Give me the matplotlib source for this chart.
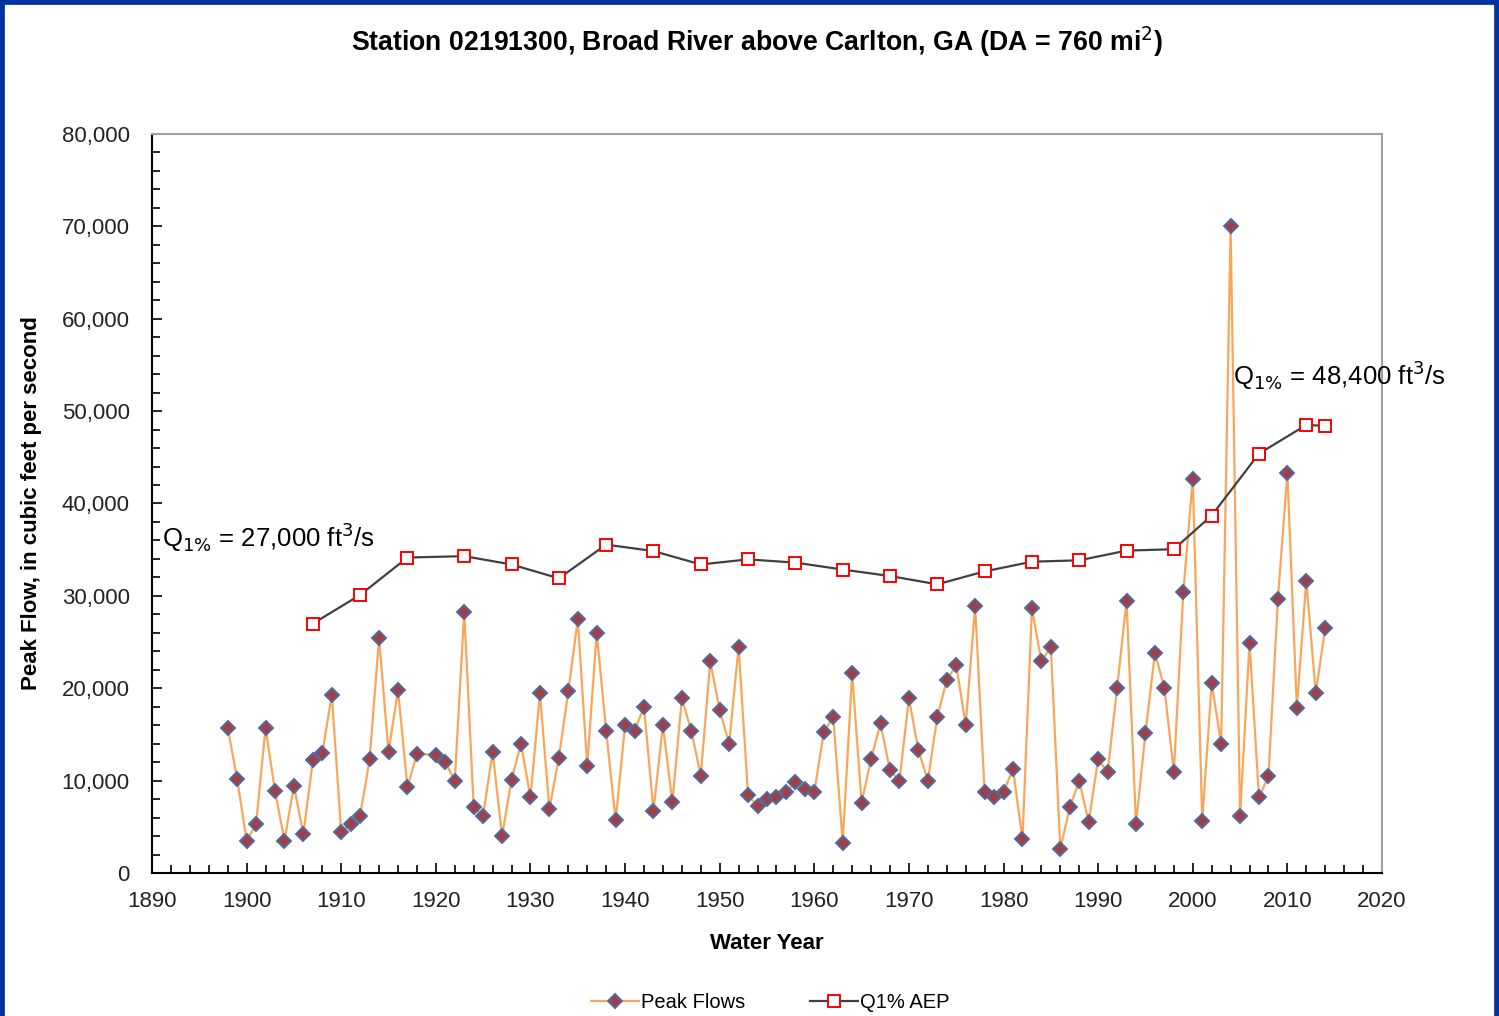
"""Annual peak flows and the moving 1% AEP estimate for Broad River above
Carlton, GA. Values read off the published figure."""
import matplotlib
matplotlib.use("Agg")
import matplotlib.pyplot as plt  # noqa: E402
from matplotlib.patches import Rectangle  # noqa: E402
from matplotlib.ticker import FuncFormatter, MultipleLocator  # noqa: E402

plt.rcParams.update({"font.family": ["Liberation Sans", "DejaVu Sans"]})

# annual peaks (1919 not in record)
peak_years = [1898, 1899, 1900, 1901, 1902, 1903, 1904, 1905, 1906, 1907,
              1908, 1909, 1910, 1911, 1912, 1913, 1914, 1915, 1916, 1917,
              1918, 1920, 1921, 1922, 1923, 1924, 1925, 1926, 1927, 1928,
              1929, 1930, 1931, 1932, 1933, 1934, 1935, 1936, 1937, 1938,
              1939, 1940, 1941, 1942, 1943, 1944, 1945, 1946, 1947, 1948,
              1949, 1950, 1951, 1952, 1953, 1954, 1955, 1956, 1957, 1958,
              1959, 1960, 1961, 1962, 1963, 1964, 1965, 1966, 1967, 1968,
              1969, 1970, 1971, 1972, 1973, 1974, 1975, 1976, 1977, 1978,
              1979, 1980, 1981, 1982, 1983, 1984, 1985, 1986, 1987, 1988,
              1989, 1990, 1991, 1992, 1993, 1994, 1995, 1996, 1997, 1998,
              1999, 2000, 2001, 2002, 2003, 2004, 2005, 2006, 2007, 2008,
              2009, 2010, 2011, 2012, 2013, 2014]
peak_flows = [15700, 10200, 3500, 5300, 15700, 8900, 3500, 9450, 4200, 12200,
              12950, 19300, 4400, 5300, 6200, 12300, 25400, 13100, 19800, 9300,
              12900, 12800, 12000, 10000, 28300, 7100, 6200, 13100, 4000, 10100,
              14000, 8200, 19450, 6900, 12500, 19650, 27450, 11600, 26000, 15400,
              5700, 16000, 15400, 18000, 6750, 16000, 7650, 18900, 15400, 10550,
              22900, 17650, 14000, 24500, 8400, 7250, 8000, 8200, 8750, 9800,
              9100, 8750, 15250, 16900, 3300, 21600, 7600, 12350, 16200, 11100,
              10000, 18900, 13300, 10000, 16900, 20900, 22500, 16000, 28900, 8750,
              8200, 8750, 11250, 3650, 28650, 22900, 24500, 2600, 7100, 10000,
              5500, 12350, 10900, 20000, 29450, 5300, 15150, 23800, 20050, 10900,
              30400, 42700, 5650, 20550, 14000, 70000, 6200, 24900, 8200, 10450,
              29700, 43300, 17900, 31650, 19450, 26550]

# 1% annual exceedance probability estimate through time
q1_years = [1907, 1912, 1917, 1923, 1928, 1933, 1938, 1943, 1948, 1953, 1958,
            1963, 1968, 1973, 1978, 1983, 1988, 1993, 1998, 2002, 2007, 2012,
            2014]
q1_flows = [27000, 30100, 34150, 34300, 33400, 31900, 35550, 34850, 33400,
            33950, 33600, 32850, 32150, 31250, 32650, 33700, 33850, 34900,
            35050, 38700, 45400, 48500, 48400]

fig = plt.figure(figsize=(14.99, 10.16), dpi=100)
ax = fig.add_axes([152 / 1499, 1 - 873 / 1016, 1230 / 1499, 739 / 1016])

ax.plot(peak_years, peak_flows, color="#f9a65a", lw=1.6, marker="D", ms=7,
        mfc="#a23e48", mec="#4f6a9a", mew=1.4, label="Peak Flows", zorder=3)
ax.plot(q1_years, q1_flows, color="#404040", lw=1.6, marker="s", ms=8,
        mfc="white", mec="#ff0000", mew=1.4, label="Q1% AEP", zorder=4)

ax.set_xlim(1890, 2020)
ax.set_ylim(0, 80000)
ax.xaxis.set_major_locator(MultipleLocator(10))
ax.xaxis.set_minor_locator(MultipleLocator(2))
ax.yaxis.set_major_locator(MultipleLocator(10000))
ax.yaxis.set_minor_locator(MultipleLocator(2000))
ax.yaxis.set_major_formatter(FuncFormatter(lambda v, p: f"{v:,.0f}"))
ax.tick_params(which="both", direction="in", top=False, right=False,
               labelsize=16, labelcolor="#222222", width=1.2)
ax.tick_params(which="major", length=7)
ax.tick_params(which="minor", length=6)
ax.tick_params(axis="x", which="major", pad=13)
ax.tick_params(axis="y", which="major", pad=16)
for sp in ("left", "bottom"):
    ax.spines[sp].set_linewidth(1.5)
    ax.spines[sp].set_color("black")
for sp in ("top", "right"):
    ax.spines[sp].set_linewidth(1.5)
    ax.spines[sp].set_color("#a0a0a0")

ax.set_xlabel("Water Year", fontsize=16, fontweight="bold", labelpad=15)
ax.set_ylabel("Peak Flow, in cubic feet per second", fontsize=16,
              fontweight="bold", labelpad=14)
fig.text(757 / 1499, 1 - 42 / 1016,
         "Station 02191300, Broad River above Carlton, GA (DA = 760 mi$^{2}$)",
         ha="center", va="center", fontsize=19.2, fontweight="bold")

ax.text(1891.1, 36300, r"Q$_{1\%}$ = 27,000 ft$^{3}$/s", fontsize=18.5,
        ha="left", va="center")
ax.text(2004.3, 53900, r"Q$_{1\%}$ = 48,400 ft$^{3}$/s", fontsize=18.5,
        ha="left", va="center")

fig.legend(loc="center", bbox_to_anchor=(770 / 1499, 1 - 1003 / 1016),
           ncol=2, frameon=False, fontsize=14.5, handlelength=2.4,
           columnspacing=3.2, handletextpad=0.1)

# blue frame around the slide
fig.patches.append(Rectangle((0, -0.05), 1, 1.05, transform=fig.transFigure,
                             fill=False, ec="#0033a0", lw=7))

fig.savefig("out.png", dpi=100)
